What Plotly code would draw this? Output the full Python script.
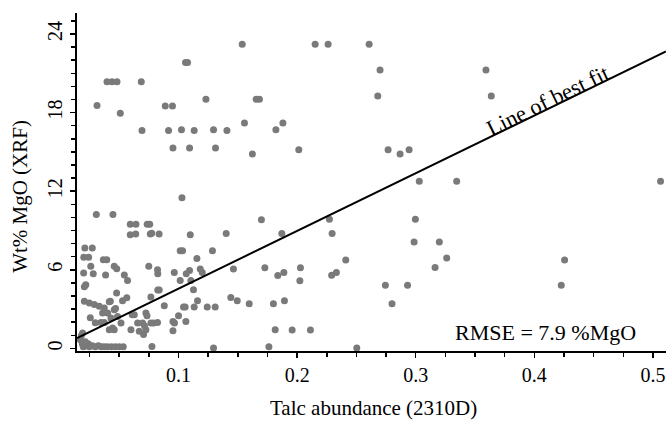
import plotly.graph_objects as go

# Talc abundance (2310D)
talc = [
    0.0313, 0.0397, 0.0439, 0.0481, 0.0509, 0.0686, 0.0692, 0.0888, 0.0949, 0.0916,
    0.0953, 0.1025, 0.1059, 0.1076, 0.1093, 0.1132, 0.1231, 0.1295, 0.1312, 0.1408,
    0.1537, 0.1556, 0.1623, 0.1655, 0.1682, 0.1821, 0.1880, 0.2014, 0.2152, 0.2261,
    0.1029, 0.2607, 0.2699, 0.2680, 0.3592, 0.3637, 0.2767, 0.2868, 0.2944, 0.3030,
    0.3345, 0.5064,
    0.1699, 0.1099, 0.1402, 0.1871, 0.1014, 0.1034, 0.1286, 0.1155, 0.0964, 0.1065,
    0.1093, 0.1183, 0.1200, 0.1463, 0.1728, 0.1837, 0.1888, 0.1014, 0.1104, 0.2272,
    0.2295, 0.2997, 0.2986, 0.3199, 0.3261, 0.3163, 0.2410, 0.2291, 0.2331, 0.2028,
    0.2023, 0.2744, 0.2931, 0.2800, 0.4255, 0.4227, 0.0307, 0.0447, 0.0593, 0.0641,
    0.0736, 0.0757, 0.0593, 0.0639, 0.0762, 0.0774, 0.0836, 0.0210, 0.0273, 0.0201,
    0.0242, 0.0366, 0.0395, 0.0260, 0.0458, 0.0479, 0.0749, 0.0200, 0.0281, 0.0385,
    0.0543, 0.0570, 0.0823, 0.0825, 0.0218, 0.0206, 0.0478, 0.0564, 0.0825, 0.0837,
    0.0767, 0.1160, 0.1126, 0.1441, 0.1495, 0.1596, 0.1800, 0.1893, 0.1958, 0.2112,
    0.1815, 0.2503, 0.1762, 0.1295, 0.0776,
    0.1042, 0.1056, 0.1132, 0.1242, 0.1309, 0.1000, 0.0953, 0.0966, 0.1062, 0.0953,
    0.0880, 0.0206, 0.0248, 0.0290, 0.0332, 0.0374, 0.0416, 0.0425, 0.0528, 0.0469,
    0.0360, 0.0402, 0.0458, 0.0346, 0.0374, 0.0430, 0.0486, 0.0515, 0.0610, 0.0627,
    0.0655, 0.0697, 0.0725, 0.0734, 0.0599, 0.0669, 0.0725, 0.0705, 0.0713, 0.0767,
    0.0789, 0.0823, 0.0416, 0.0444, 0.0458, 0.0191,
    0.0172, 0.0180, 0.0189, 0.0197, 0.0214, 0.0222, 0.0239, 0.0248, 0.0273, 0.0298,
    0.0324, 0.0349, 0.0374, 0.0399, 0.0433, 0.0467, 0.0500, 0.0534, 0.0256, 0.0298,
]

# Wt% MgO (XRF)
mgo = [
    18.53, 20.36, 20.36, 20.36, 17.94, 20.36, 16.64, 18.50, 18.50, 16.64,
    15.30, 16.69, 21.83, 21.83, 15.30, 16.64, 19.01, 16.69, 15.30, 16.64,
    23.21, 17.21, 14.84, 19.01, 19.01, 16.69, 17.21, 15.17, 23.21, 23.21,
    11.50, 23.21, 21.25, 19.27, 21.25, 19.27, 15.17, 14.84, 15.17, 12.75,
    12.75, 12.75,
    9.82, 8.68, 8.76, 8.76, 7.46, 7.46, 7.46, 6.87, 5.80, 5.70,
    5.95, 6.06, 5.80, 6.06, 6.16, 5.57, 5.80, 5.19, 5.19, 9.86,
    8.76, 9.85, 8.12, 8.12, 6.90, 6.18, 6.75, 5.59, 5.80, 6.16,
    5.17, 4.81, 4.81, 3.41, 6.75, 4.81, 10.21, 10.21, 9.47, 9.47,
    9.47, 9.47, 8.68, 8.73, 8.73, 8.79, 8.73, 7.66, 7.66, 6.96,
    6.96, 6.77, 6.77, 6.26, 6.26, 6.08, 6.26, 5.76, 5.70, 5.60,
    5.60, 5.19, 6.01, 5.70, 4.86, 4.71, 4.23, 3.87, 4.46, 4.46,
    3.92, 3.64, 4.48, 3.89, 3.64, 3.41, 3.41, 3.64, 1.40, 1.40,
    1.43, 0.03, 0.13, 0.03, 0.15,
    3.16, 3.16, 3.16, 3.16, 3.16, 2.50, 2.06, 1.94, 2.06, 1.35,
    3.26, 3.59, 3.47, 3.34, 3.21, 3.08, 3.56, 3.59, 3.64, 3.05,
    2.70, 2.70, 2.95, 1.98, 1.98, 2.32, 2.44, 1.94, 2.57, 2.57,
    1.94, 1.94, 2.70, 2.50, 1.43, 1.30, 1.43, 1.05, 1.73, 1.94,
    1.94, 1.98, 1.43, 1.56, 1.43, 1.18,
    0.66, 0.97, 0.36, 0.13, 0.51, 0.21, 0.36, 0.13, 0.21, 0.13,
    0.21, 0.13, 0.13, 0.13, 0.13, 0.13, 0.13, 0.13, 2.34, 1.96,
]

# Line of best fit end points
fit_x = [0.0144, 0.511]
fit_y = [0.79, 22.67]

x_ticks = [0.1, 0.2, 0.3, 0.4, 0.5]
x_tick_labels = ["0.1", "0.2", "0.3", "0.4", "0.5"]
y_ticks = [0, 6, 12, 18, 24]
y_tick_labels = ["0", "6", "12", "18", "24"]

FONT = "Liberation Serif, Times New Roman, serif"

fig = go.Figure()
fig.add_trace(go.Scatter(
    x=talc, y=mgo, mode="markers",
    marker=dict(size=7, color="#7a7a7a", line=dict(width=0)),
    showlegend=False, cliponaxis=False,
))
fig.add_trace(go.Scatter(
    x=fit_x, y=fit_y, mode="lines",
    line=dict(color="black", width=2),
    showlegend=False,
))

fig.add_annotation(
    x=0.4115, y=18.95, text="Line of best fit", showarrow=False,
    textangle=-25.9, font=dict(family=FONT, size=22.5, color="black"),
)
fig.add_annotation(
    x=0.4098, y=1.2, text="RMSE = 7.9 %MgO", showarrow=False,
    font=dict(family=FONT, size=22, color="black"),
)
# axis titles
fig.add_annotation(
    x=0.503, y=0, xref="paper", yref="paper", yshift=-57,
    text="Talc abundance (2310D)", showarrow=False,
    xanchor="center", yanchor="middle",
    font=dict(family=FONT, size=21, color="black"),
)
fig.add_annotation(
    x=0, y=0.456, xref="paper", yref="paper", xshift=-57,
    text="Wt% MgO (XRF)", showarrow=False, textangle=-90,
    xanchor="center", yanchor="middle",
    font=dict(family=FONT, size=21, color="black"),
)

fig.update_layout(
    width=666, height=421,
    margin=dict(l=77, r=0, t=13, b=70),
    paper_bgcolor="white", plot_bgcolor="white",
    font=dict(family=FONT, size=20, color="black"),
    hovermode=False,
    xaxis=dict(
        range=[0.0144, 0.511], showgrid=False, zeroline=False, automargin=False,
        showline=True, linecolor="black", linewidth=2,
        ticks="outside", ticklen=5, tickwidth=1.5, tickcolor="black",
        tickvals=x_ticks, ticktext=x_tick_labels,
        minor=dict(dtick=0.025, tick0=0, ticks="outside", ticklen=4,
                   tickwidth=1.5, tickcolor="black"),
        tickfont=dict(size=20),
    ),
    yaxis=dict(
        range=[-0.2, 25.6], showgrid=False, zeroline=False, automargin=False,
        showline=True, linecolor="black", linewidth=2,
        ticks="outside", ticklen=5, tickwidth=1.5, tickcolor="black",
        tickvals=y_ticks, ticktext=y_tick_labels, tickangle=-90,
        minor=dict(dtick=1, tick0=0, ticks="outside", ticklen=4,
                   tickwidth=1.5, tickcolor="black"),
        tickfont=dict(size=20),
    ),
)

# remove the page's default body margin so the figure fills the window exactly
fig.write_html(
    "out.html",
    config={"displayModeBar": False, "staticPlot": True},
    post_script="document.body.style.margin='0';document.body.style.overflow='hidden';",
)
